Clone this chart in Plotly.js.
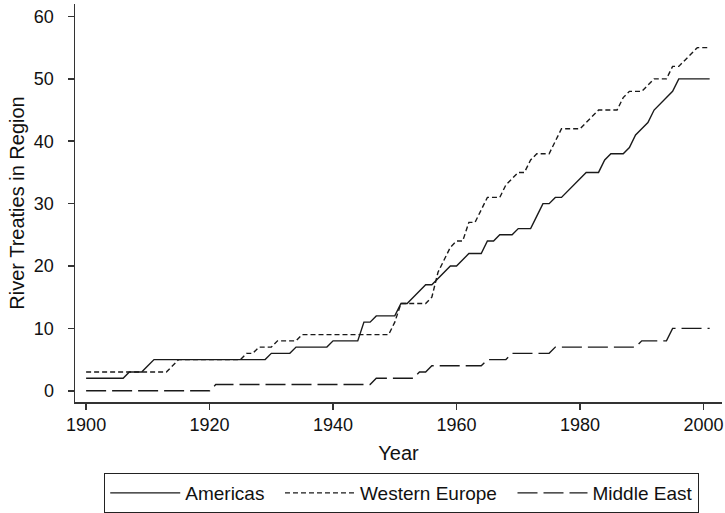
<!DOCTYPE html>
<html>
<head>
<meta charset="utf-8">
<script src="https://cdn.plot.ly/plotly-3.0.1.min.js"></script>
<style>html,body{margin:0;padding:0;background:#fff;}#chart{width:725px;height:513px;}</style>
</head>
<body>
<div id="chart"></div>
<script>
var years = [
  1900,1901,1902,1903,1904,1905,1906,1907,1908,1909,
  1910,1911,1912,1913,1914,1915,1916,1917,1918,1919,
  1920,1921,1922,1923,1924,1925,1926,1927,1928,1929,
  1930,1931,1932,1933,1934,1935,1936,1937,1938,1939,
  1940,1941,1942,1943,1944,1945,1946,1947,1948,1949,
  1950,1951,1952,1953,1954,1955,1956,1957,1958,1959,
  1960,1961,1962,1963,1964,1965,1966,1967,1968,1969,
  1970,1971,1972,1973,1974,1975,1976,1977,1978,1979,
  1980,1981,1982,1983,1984,1985,1986,1987,1988,1989,
  1990,1991,1992,1993,1994,1995,1996,1997,1998,1999,
  2000,2001
];
var americas = [
  2,2,2,2,2,2,2,3,3,3,
  4,5,5,5,5,5,5,5,5,5,
  5,5,5,5,5,5,5,5,5,5,
  6,6,6,6,7,7,7,7,7,7,
  8,8,8,8,8,11,11,12,12,12,
  12,14,14,15,16,17,17,18,19,20,
  20,21,22,22,22,24,24,25,25,25,
  26,26,26,28,30,30,31,31,32,33,
  34,35,35,35,37,38,38,38,39,41,
  42,43,45,46,47,48,50,50,50,50,
  50,50
];
var westernEurope = [
  3,3,3,3,3,3,3,3,3,3,
  3,3,3,3,4,5,5,5,5,5,
  5,5,5,5,5,5,6,6,7,7,
  7,8,8,8,8,9,9,9,9,9,
  9,9,9,9,9,9,9,9,9,9,
  11,14,14,14,14,14,15,19,21,23,
  24,24,27,27,29,31,31,31,33,34,
  35,35,37,38,38,38,40,42,42,42,
  42,43,44,45,45,45,45,47,48,48,
  48,49,50,50,50,52,52,53,54,55,
  55,55
];
var middleEast = [
  0,0,0,0,0,0,0,0,0,0,
  0,0,0,0,0,0,0,0,0,0,
  0,1,1,1,1,1,1,1,1,1,
  1,1,1,1,1,1,1,1,1,1,
  1,1,1,1,1,1,1,2,2,2,
  2,2,2,2,3,3,4,4,4,4,
  4,4,4,4,4,5,5,5,5,6,
  6,6,6,6,6,6,7,7,7,7,
  7,7,7,7,7,7,7,7,7,7,
  8,8,8,8,8,10,10,10,10,10,
  10,10
];
var seriesNames = ['Americas', 'Western Europe', 'Middle East'];
var xTicks = [1900, 1920, 1940, 1960, 1980, 2000];
var yTicks = [0, 10, 20, 30, 40, 50, 60];

var FONT = 'Liberation Sans, Arial, Helvetica, sans-serif';
var lineColor = '#1a1a1a';
var NB = '\u00a0';
var traces = [
  {x: years, y: americas, name: seriesNames[0] + NB + NB, mode: 'lines',
   line: {color: lineColor, width: 1.4, dash: 'solid'}},
  {x: years, y: westernEurope, name: seriesNames[1] + NB + NB, mode: 'lines',
   line: {color: lineColor, width: 1.4, dash: '5px,3px'}},
  {x: years, y: middleEast, name: seriesNames[2], mode: 'lines',
   line: {color: lineColor, width: 1.4, dash: '20px,6px'}}
];

var axisCommon = {
  showgrid: false, zeroline: false, showline: true, linecolor: '#333',
  linewidth: 1.5, ticks: 'outside', ticklen: 6, tickwidth: 1.5, tickcolor: '#333',
  tickfont: {family: FONT, size: 18, color: '#111'}, automargin: false
};

var layout = {
  width: 725, height: 513,
  paper_bgcolor: '#fff', plot_bgcolor: '#fff',
  margin: {l: 75, r: 3, t: 4, b: 111},
  font: {family: FONT, color: '#111'},
  showlegend: true,
  xaxis: Object.assign({}, axisCommon, {
    range: [1898.2, 2003], tickvals: xTicks, ticktext: xTicks.map(String),
    ticklabelstandoff: 0,
    title: {text: 'Year', font: {family: FONT, size: 20, color: '#111'}, standoff: 12}
  }),
  yaxis: Object.assign({}, axisCommon, {
    range: [-1.8, 62], tickvals: yTicks, ticktext: yTicks.map(String),
    ticklabelstandoff: 10,
    title: {text: 'River Treaties in Region', font: {family: FONT, size: 20, color: '#111'}, standoff: 4}
  }),
  legend: {
    orientation: 'h', x: 0.505, xanchor: 'center', xref: 'paper',
    y: 0.078, yanchor: 'top', yref: 'container',
    bordercolor: '#222', borderwidth: 1, bgcolor: '#fff',
    font: {family: FONT, size: 19, color: '#111'}, itemwidth: 70,
    traceorder: 'normal'
  }
};

Plotly.newPlot('chart', traces, layout, {displayModeBar: false, staticPlot: true});
</script>
</body>
</html>
